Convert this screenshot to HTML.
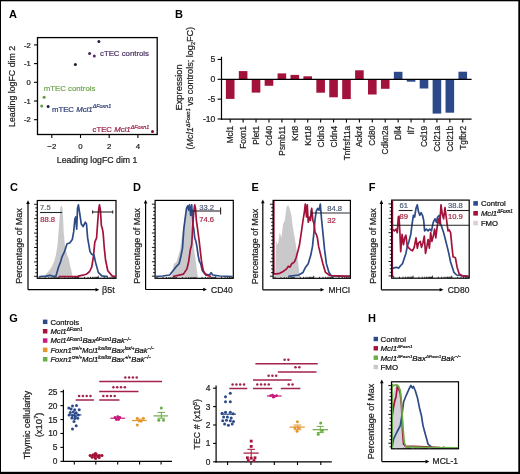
<!DOCTYPE html>
<html><head><meta charset="utf-8"><style>
html,body{margin:0;padding:0;background:#fff;}
svg{display:block;font-family:"Liberation Sans", sans-serif;filter:blur(0.3px);}
</style></head><body>
<svg width="520" height="474" viewBox="0 0 520 474" font-family='"Liberation Sans", sans-serif'>
<rect x="0" y="0" width="520" height="474" fill="#000" stroke="none" stroke-width="1"/>
<rect x="1" y="1.3" width="517.3" height="470.5" fill="#fff" stroke="none" stroke-width="1"/>
<text x="9" y="17.8" font-size="11" text-anchor="start" fill="#000" font-weight="bold" font-style="normal" >A</text>
<rect x="37.5" y="37.6" width="119.7" height="96.9" fill="none" stroke="#000" stroke-width="1.3"/>
<line x1="34" y1="44.9" x2="37.5" y2="44.9" stroke="#000" stroke-width="1.1"/>
<text x="30.8" y="47.6" font-size="7.6" text-anchor="end" fill="#222" font-weight="normal" font-style="normal"  stroke="#222" stroke-width="0.22">-2</text>
<line x1="34" y1="63.6" x2="37.5" y2="63.6" stroke="#000" stroke-width="1.1"/>
<text x="30.8" y="66.3" font-size="7.6" text-anchor="end" fill="#222" font-weight="normal" font-style="normal"  stroke="#222" stroke-width="0.22">-1</text>
<line x1="34" y1="82.3" x2="37.5" y2="82.3" stroke="#000" stroke-width="1.1"/>
<text x="30.8" y="85.0" font-size="7.6" text-anchor="end" fill="#222" font-weight="normal" font-style="normal"  stroke="#222" stroke-width="0.22">0</text>
<line x1="34" y1="101.0" x2="37.5" y2="101.0" stroke="#000" stroke-width="1.1"/>
<text x="30.8" y="103.7" font-size="7.6" text-anchor="end" fill="#222" font-weight="normal" font-style="normal"  stroke="#222" stroke-width="0.22">-1</text>
<line x1="34" y1="119.7" x2="37.5" y2="119.7" stroke="#000" stroke-width="1.1"/>
<text x="30.8" y="122.4" font-size="7.6" text-anchor="end" fill="#222" font-weight="normal" font-style="normal"  stroke="#222" stroke-width="0.22">-2</text>
<line x1="51.8" y1="134.5" x2="51.8" y2="138" stroke="#000" stroke-width="1.1"/>
<text x="51.8" y="148.6" font-size="7.8" text-anchor="middle" fill="#222" font-weight="normal" font-style="normal"  stroke="#222" stroke-width="0.22">−2</text>
<line x1="80.5" y1="134.5" x2="80.5" y2="138" stroke="#000" stroke-width="1.1"/>
<text x="80.5" y="148.6" font-size="7.8" text-anchor="middle" fill="#222" font-weight="normal" font-style="normal"  stroke="#222" stroke-width="0.22">0</text>
<line x1="109.2" y1="134.5" x2="109.2" y2="138" stroke="#000" stroke-width="1.1"/>
<text x="109.2" y="148.6" font-size="7.8" text-anchor="middle" fill="#222" font-weight="normal" font-style="normal"  stroke="#222" stroke-width="0.22">2</text>
<line x1="137.9" y1="134.5" x2="137.9" y2="138" stroke="#000" stroke-width="1.1"/>
<text x="137.9" y="148.6" font-size="7.8" text-anchor="middle" fill="#222" font-weight="normal" font-style="normal"  stroke="#222" stroke-width="0.22">4</text>
<text transform="translate(97.1,162.8) scale(1,1.08)" font-size="8.75" text-anchor="middle" fill="#222" stroke="#222" stroke-width="0.22">Leading logFC dim 1</text>
<text transform="translate(15,86.4) rotate(-90)" font-size="8.8" text-anchor="middle" fill="#222" stroke="#222" stroke-width="0.22">Leading logFC dim 2</text>
<circle cx="98.9" cy="41.4" r="1.5" fill="#2a2040"/>
<circle cx="89.6" cy="53.5" r="1.5" fill="#4a2060"/>
<circle cx="94.3" cy="55.9" r="1.5" fill="#5a2a6a"/>
<circle cx="75.4" cy="64.5" r="1.5" fill="#1e1a30"/>
<circle cx="44.1" cy="97.2" r="1.5" fill="#5f9a45"/>
<circle cx="41.7" cy="106.0" r="1.5" fill="#5f9a45"/>
<circle cx="48.1" cy="106.5" r="1.5" fill="#1d2440"/>
<circle cx="152.5" cy="131.5" r="1.5" fill="#7a1030"/>
<text x="100" y="56.0" font-size="7.8" text-anchor="start" fill="#4a3262" font-weight="normal" font-style="normal"  stroke="#4a3262" stroke-width="0.22">cTEC controls</text>
<text x="43.8" y="91.2" font-size="7.8" text-anchor="start" fill="#72a552" font-weight="normal" font-style="normal"  stroke="#72a552" stroke-width="0.22">mTEC controls</text>
<text x="51.9" y="111.5" font-size="7.8" fill="#34427a" stroke="#34427a" stroke-width="0.22">mTEC <tspan font-style="italic">Mcl1</tspan><tspan font-size="5.4" font-style="italic" dy="-3.4">ΔFoxn1</tspan></text>
<text x="92.5" y="132.4" font-size="7.8" fill="#9a1f48" stroke="#9a1f48" stroke-width="0.22">cTEC <tspan font-style="italic">Mcl1</tspan><tspan font-size="5.4" font-style="italic" dy="-3.4">ΔFoxn1</tspan></text>
<text x="175" y="17.5" font-size="11" text-anchor="start" fill="#000" font-weight="bold" font-style="normal" >B</text>
<line x1="221.5" y1="56.7" x2="221.5" y2="119.8" stroke="#000" stroke-width="1.2"/>
<line x1="217.6" y1="59.449999999999996" x2="221.5" y2="59.449999999999996" stroke="#000" stroke-width="1.1"/>
<text x="215.4" y="62.449999999999996" font-size="8.6" text-anchor="end" fill="#222" font-weight="normal" font-style="normal"  stroke="#222" stroke-width="0.22">5</text>
<line x1="217.6" y1="79.3" x2="221.5" y2="79.3" stroke="#000" stroke-width="1.1"/>
<text x="215.4" y="82.3" font-size="8.6" text-anchor="end" fill="#222" font-weight="normal" font-style="normal"  stroke="#222" stroke-width="0.22">0</text>
<line x1="217.6" y1="99.15" x2="221.5" y2="99.15" stroke="#000" stroke-width="1.1"/>
<text x="215.4" y="102.15" font-size="8.6" text-anchor="end" fill="#222" font-weight="normal" font-style="normal"  stroke="#222" stroke-width="0.22">-5</text>
<line x1="217.6" y1="119.0" x2="221.5" y2="119.0" stroke="#000" stroke-width="1.1"/>
<text x="215.4" y="122.0" font-size="8.6" text-anchor="end" fill="#222" font-weight="normal" font-style="normal"  stroke="#222" stroke-width="0.22">-10</text>
<rect x="225.89999999999998" y="79.3" width="8.6" height="19.6" fill="#a3123a" stroke="none" stroke-width="1"/>
<line x1="230.2" y1="119.2" x2="230.2" y2="122.6" stroke="#000" stroke-width="1.1"/>
<text transform="translate(233.2,125.8) rotate(-90)" font-size="8.3" text-anchor="end" fill="#222" stroke="#222" stroke-width="0.22">Mcl1</text>
<rect x="238.81999999999996" y="71.1" width="8.6" height="8.2" fill="#a3123a" stroke="none" stroke-width="1"/>
<line x1="243.11999999999998" y1="119.2" x2="243.11999999999998" y2="122.6" stroke="#000" stroke-width="1.1"/>
<text transform="translate(246.1,125.8) rotate(-90)" font-size="8.3" text-anchor="end" fill="#222" stroke="#222" stroke-width="0.22">Foxn1</text>
<rect x="251.73999999999995" y="79.3" width="8.6" height="13.3" fill="#a3123a" stroke="none" stroke-width="1"/>
<line x1="256.03999999999996" y1="119.2" x2="256.03999999999996" y2="122.6" stroke="#000" stroke-width="1.1"/>
<text transform="translate(259.0,125.8) rotate(-90)" font-size="8.3" text-anchor="end" fill="#222" stroke="#222" stroke-width="0.22">Plet1</text>
<rect x="264.65999999999997" y="79.3" width="8.6" height="6.5" fill="#a3123a" stroke="none" stroke-width="1"/>
<line x1="268.96" y1="119.2" x2="268.96" y2="122.6" stroke="#000" stroke-width="1.1"/>
<text transform="translate(272.0,125.8) rotate(-90)" font-size="8.3" text-anchor="end" fill="#222" stroke="#222" stroke-width="0.22">Cd40</text>
<rect x="277.58" y="73.39999999999999" width="8.6" height="5.9" fill="#a3123a" stroke="none" stroke-width="1"/>
<line x1="281.88" y1="119.2" x2="281.88" y2="122.6" stroke="#000" stroke-width="1.1"/>
<text transform="translate(284.9,125.8) rotate(-90)" font-size="8.3" text-anchor="end" fill="#222" stroke="#222" stroke-width="0.22">Psmb11</text>
<rect x="290.49999999999994" y="74.89999999999999" width="8.6" height="4.4" fill="#a3123a" stroke="none" stroke-width="1"/>
<line x1="294.79999999999995" y1="119.2" x2="294.79999999999995" y2="122.6" stroke="#000" stroke-width="1.1"/>
<text transform="translate(297.8,125.8) rotate(-90)" font-size="8.3" text-anchor="end" fill="#222" stroke="#222" stroke-width="0.22">Krt8</text>
<rect x="303.41999999999996" y="76.3" width="8.6" height="3.0" fill="#a3123a" stroke="none" stroke-width="1"/>
<line x1="307.71999999999997" y1="119.2" x2="307.71999999999997" y2="122.6" stroke="#000" stroke-width="1.1"/>
<text transform="translate(310.7,125.8) rotate(-90)" font-size="8.3" text-anchor="end" fill="#222" stroke="#222" stroke-width="0.22">Krt18</text>
<rect x="316.34" y="79.3" width="8.6" height="13.4" fill="#a3123a" stroke="none" stroke-width="1"/>
<line x1="320.64" y1="119.2" x2="320.64" y2="122.6" stroke="#000" stroke-width="1.1"/>
<text transform="translate(323.6,125.8) rotate(-90)" font-size="8.3" text-anchor="end" fill="#222" stroke="#222" stroke-width="0.22">Cldn3</text>
<rect x="329.26" y="79.3" width="8.6" height="18.0" fill="#a3123a" stroke="none" stroke-width="1"/>
<line x1="333.56" y1="119.2" x2="333.56" y2="122.6" stroke="#000" stroke-width="1.1"/>
<text transform="translate(336.6,125.8) rotate(-90)" font-size="8.3" text-anchor="end" fill="#222" stroke="#222" stroke-width="0.22">Cldn4</text>
<rect x="342.18" y="79.3" width="8.6" height="19.8" fill="#a3123a" stroke="none" stroke-width="1"/>
<line x1="346.48" y1="119.2" x2="346.48" y2="122.6" stroke="#000" stroke-width="1.1"/>
<text transform="translate(349.5,125.8) rotate(-90)" font-size="8.3" text-anchor="end" fill="#222" stroke="#222" stroke-width="0.22">Tnfrsf11a</text>
<rect x="355.09999999999997" y="70.3" width="8.6" height="9.0" fill="#a3123a" stroke="none" stroke-width="1"/>
<line x1="359.4" y1="119.2" x2="359.4" y2="122.6" stroke="#000" stroke-width="1.1"/>
<text transform="translate(362.4,125.8) rotate(-90)" font-size="8.3" text-anchor="end" fill="#222" stroke="#222" stroke-width="0.22">Ackr4</text>
<rect x="368.02" y="79.3" width="8.6" height="15.2" fill="#a3123a" stroke="none" stroke-width="1"/>
<line x1="372.32" y1="119.2" x2="372.32" y2="122.6" stroke="#000" stroke-width="1.1"/>
<text transform="translate(375.3,125.8) rotate(-90)" font-size="8.3" text-anchor="end" fill="#222" stroke="#222" stroke-width="0.22">Cd80</text>
<rect x="380.94" y="79.3" width="8.6" height="9.5" fill="#a3123a" stroke="none" stroke-width="1"/>
<line x1="385.24" y1="119.2" x2="385.24" y2="122.6" stroke="#000" stroke-width="1.1"/>
<text transform="translate(388.2,125.8) rotate(-90)" font-size="8.3" text-anchor="end" fill="#222" stroke="#222" stroke-width="0.22">Cdkn2a</text>
<rect x="393.85999999999996" y="71.8" width="8.6" height="7.5" fill="#2c4a8a" stroke="none" stroke-width="1"/>
<line x1="398.15999999999997" y1="119.2" x2="398.15999999999997" y2="122.6" stroke="#000" stroke-width="1.1"/>
<text transform="translate(401.2,125.8) rotate(-90)" font-size="8.3" text-anchor="end" fill="#222" stroke="#222" stroke-width="0.22">Dll4</text>
<rect x="406.78" y="79.3" width="8.6" height="2.4" fill="#2c4a8a" stroke="none" stroke-width="1"/>
<line x1="411.08" y1="119.2" x2="411.08" y2="122.6" stroke="#000" stroke-width="1.1"/>
<text transform="translate(414.1,125.8) rotate(-90)" font-size="8.3" text-anchor="end" fill="#222" stroke="#222" stroke-width="0.22">Il7</text>
<rect x="419.7" y="79.3" width="8.6" height="9.2" fill="#2c4a8a" stroke="none" stroke-width="1"/>
<line x1="424.0" y1="119.2" x2="424.0" y2="122.6" stroke="#000" stroke-width="1.1"/>
<text transform="translate(427.0,125.8) rotate(-90)" font-size="8.3" text-anchor="end" fill="#222" stroke="#222" stroke-width="0.22">Ccl19</text>
<rect x="432.61999999999995" y="79.3" width="8.6" height="34.3" fill="#2c4a8a" stroke="none" stroke-width="1"/>
<line x1="436.91999999999996" y1="119.2" x2="436.91999999999996" y2="122.6" stroke="#000" stroke-width="1.1"/>
<text transform="translate(439.9,125.8) rotate(-90)" font-size="8.3" text-anchor="end" fill="#222" stroke="#222" stroke-width="0.22">Ccl21a</text>
<rect x="445.53999999999996" y="79.3" width="8.6" height="33.4" fill="#2c4a8a" stroke="none" stroke-width="1"/>
<line x1="449.84" y1="119.2" x2="449.84" y2="122.6" stroke="#000" stroke-width="1.1"/>
<text transform="translate(452.8,125.8) rotate(-90)" font-size="8.3" text-anchor="end" fill="#222" stroke="#222" stroke-width="0.22">Ccl21b</text>
<rect x="458.46" y="71.7" width="8.6" height="7.6" fill="#2c4a8a" stroke="none" stroke-width="1"/>
<line x1="462.76" y1="119.2" x2="462.76" y2="122.6" stroke="#000" stroke-width="1.1"/>
<text transform="translate(465.8,125.8) rotate(-90)" font-size="8.3" text-anchor="end" fill="#222" stroke="#222" stroke-width="0.22">Tgfbr2</text>
<line x1="221.5" y1="79.3" x2="471.6" y2="79.3" stroke="#000" stroke-width="1.2"/>
<line x1="221.0" y1="119.2" x2="471.6" y2="119.2" stroke="#000" stroke-width="1.3"/>
<text transform="translate(181.9,87.4) rotate(-90)" font-size="9.4" text-anchor="middle" fill="#222" stroke="#222" stroke-width="0.22">Expression</text>
<text transform="translate(193.3,88.2) rotate(-90)" font-size="9.1" text-anchor="middle" fill="#222" stroke="#222" stroke-width="0.22">(<tspan font-style="italic">Mcl1</tspan><tspan font-size="5.5" font-style="italic" dy="-3.5">ΔFoxn1</tspan><tspan dy="3.5"> vs controls; log</tspan><tspan font-size="5.5" dy="2">2</tspan><tspan dy="-2">FC)</tspan></text>
<text x="9.9" y="191.4" font-size="11" text-anchor="start" fill="#000" font-weight="bold" font-style="normal" >C</text>
<text transform="translate(22.2,246) rotate(-90)" font-size="9.0" text-anchor="middle" fill="#222" stroke="#222" stroke-width="0.22">Percentage of Max</text>
<line x1="28.0" y1="289.7" x2="28.0" y2="203.8" stroke="#000" stroke-width="1.2"/>
<polygon points="26.2,204.1 29.8,204.1 28.0,200.3" fill="#000"/>
<line x1="28.0" y1="289.7" x2="95.8" y2="289.7" stroke="#000" stroke-width="1.2"/>
<polygon points="95.5,287.9 95.5,291.5 99.3,289.7" fill="#000"/>
<text transform="translate(102.0,292.6) scale(1,1.08)" font-size="9.0" text-anchor="start" fill="#222" stroke="#222" stroke-width="0.22">β5t</text>
<line x1="34.099999999999994" y1="204.3" x2="37.3" y2="204.3" stroke="#000" stroke-width="0.9"/>
<line x1="35.3" y1="207.9" x2="37.3" y2="207.9" stroke="#000" stroke-width="0.9"/>
<line x1="35.3" y1="211.5" x2="37.3" y2="211.5" stroke="#000" stroke-width="0.9"/>
<line x1="35.3" y1="215.1" x2="37.3" y2="215.1" stroke="#000" stroke-width="0.9"/>
<line x1="34.099999999999994" y1="218.7" x2="37.3" y2="218.7" stroke="#000" stroke-width="0.9"/>
<line x1="35.3" y1="222.29999999999998" x2="37.3" y2="222.29999999999998" stroke="#000" stroke-width="0.9"/>
<line x1="35.3" y1="225.89999999999998" x2="37.3" y2="225.89999999999998" stroke="#000" stroke-width="0.9"/>
<line x1="35.3" y1="229.49999999999997" x2="37.3" y2="229.49999999999997" stroke="#000" stroke-width="0.9"/>
<line x1="34.099999999999994" y1="233.09999999999997" x2="37.3" y2="233.09999999999997" stroke="#000" stroke-width="0.9"/>
<line x1="35.3" y1="236.69999999999996" x2="37.3" y2="236.69999999999996" stroke="#000" stroke-width="0.9"/>
<line x1="35.3" y1="240.29999999999995" x2="37.3" y2="240.29999999999995" stroke="#000" stroke-width="0.9"/>
<line x1="35.3" y1="243.89999999999995" x2="37.3" y2="243.89999999999995" stroke="#000" stroke-width="0.9"/>
<line x1="34.099999999999994" y1="247.49999999999994" x2="37.3" y2="247.49999999999994" stroke="#000" stroke-width="0.9"/>
<line x1="35.3" y1="251.09999999999994" x2="37.3" y2="251.09999999999994" stroke="#000" stroke-width="0.9"/>
<line x1="35.3" y1="254.69999999999993" x2="37.3" y2="254.69999999999993" stroke="#000" stroke-width="0.9"/>
<line x1="35.3" y1="258.29999999999995" x2="37.3" y2="258.29999999999995" stroke="#000" stroke-width="0.9"/>
<line x1="34.099999999999994" y1="261.9" x2="37.3" y2="261.9" stroke="#000" stroke-width="0.9"/>
<line x1="35.3" y1="265.5" x2="37.3" y2="265.5" stroke="#000" stroke-width="0.9"/>
<line x1="35.3" y1="269.1" x2="37.3" y2="269.1" stroke="#000" stroke-width="0.9"/>
<line x1="35.3" y1="272.70000000000005" x2="37.3" y2="272.70000000000005" stroke="#000" stroke-width="0.9"/>
<line x1="34.099999999999994" y1="276.30000000000007" x2="37.3" y2="276.30000000000007" stroke="#000" stroke-width="0.9"/>
<line x1="39.3" y1="278.3" x2="39.3" y2="275.8" stroke="#000" stroke-width="0.8"/>
<line x1="45.22276516468883" y1="278.3" x2="45.22276516468883" y2="276.8" stroke="#000" stroke-width="0.8"/>
<line x1="48.68736068660935" y1="278.3" x2="48.68736068660935" y2="276.8" stroke="#000" stroke-width="0.8"/>
<line x1="51.14553032937766" y1="278.3" x2="51.14553032937766" y2="276.8" stroke="#000" stroke-width="0.8"/>
<line x1="53.05223483531117" y1="278.3" x2="53.05223483531117" y2="276.8" stroke="#000" stroke-width="0.8"/>
<line x1="54.610125851298186" y1="278.3" x2="54.610125851298186" y2="276.8" stroke="#000" stroke-width="0.8"/>
<line x1="55.9273039372805" y1="278.3" x2="55.9273039372805" y2="276.8" stroke="#000" stroke-width="0.8"/>
<line x1="57.06829549406649" y1="278.3" x2="57.06829549406649" y2="276.8" stroke="#000" stroke-width="0.8"/>
<line x1="58.074721373218715" y1="278.3" x2="58.074721373218715" y2="276.8" stroke="#000" stroke-width="0.8"/>
<line x1="58.974999999999994" y1="278.3" x2="58.974999999999994" y2="275.8" stroke="#000" stroke-width="0.8"/>
<line x1="64.89776516468882" y1="278.3" x2="64.89776516468882" y2="276.8" stroke="#000" stroke-width="0.8"/>
<line x1="68.36236068660935" y1="278.3" x2="68.36236068660935" y2="276.8" stroke="#000" stroke-width="0.8"/>
<line x1="70.82053032937766" y1="278.3" x2="70.82053032937766" y2="276.8" stroke="#000" stroke-width="0.8"/>
<line x1="72.72723483531117" y1="278.3" x2="72.72723483531117" y2="276.8" stroke="#000" stroke-width="0.8"/>
<line x1="74.28512585129818" y1="278.3" x2="74.28512585129818" y2="276.8" stroke="#000" stroke-width="0.8"/>
<line x1="75.6023039372805" y1="278.3" x2="75.6023039372805" y2="276.8" stroke="#000" stroke-width="0.8"/>
<line x1="76.74329549406649" y1="278.3" x2="76.74329549406649" y2="276.8" stroke="#000" stroke-width="0.8"/>
<line x1="77.7497213732187" y1="278.3" x2="77.7497213732187" y2="276.8" stroke="#000" stroke-width="0.8"/>
<line x1="78.65" y1="278.3" x2="78.65" y2="275.8" stroke="#000" stroke-width="0.8"/>
<line x1="84.57276516468883" y1="278.3" x2="84.57276516468883" y2="276.8" stroke="#000" stroke-width="0.8"/>
<line x1="88.03736068660936" y1="278.3" x2="88.03736068660936" y2="276.8" stroke="#000" stroke-width="0.8"/>
<line x1="90.49553032937767" y1="278.3" x2="90.49553032937767" y2="276.8" stroke="#000" stroke-width="0.8"/>
<line x1="92.40223483531118" y1="278.3" x2="92.40223483531118" y2="276.8" stroke="#000" stroke-width="0.8"/>
<line x1="93.96012585129819" y1="278.3" x2="93.96012585129819" y2="276.8" stroke="#000" stroke-width="0.8"/>
<line x1="95.27730393728051" y1="278.3" x2="95.27730393728051" y2="276.8" stroke="#000" stroke-width="0.8"/>
<line x1="96.4182954940665" y1="278.3" x2="96.4182954940665" y2="276.8" stroke="#000" stroke-width="0.8"/>
<line x1="97.42472137321872" y1="278.3" x2="97.42472137321872" y2="276.8" stroke="#000" stroke-width="0.8"/>
<line x1="98.325" y1="278.3" x2="98.325" y2="275.8" stroke="#000" stroke-width="0.8"/>
<line x1="104.24776516468883" y1="278.3" x2="104.24776516468883" y2="276.8" stroke="#000" stroke-width="0.8"/>
<line x1="107.71236068660936" y1="278.3" x2="107.71236068660936" y2="276.8" stroke="#000" stroke-width="0.8"/>
<line x1="110.17053032937767" y1="278.3" x2="110.17053032937767" y2="276.8" stroke="#000" stroke-width="0.8"/>
<line x1="112.07723483531117" y1="278.3" x2="112.07723483531117" y2="276.8" stroke="#000" stroke-width="0.8"/>
<line x1="113.6351258512982" y1="278.3" x2="113.6351258512982" y2="276.8" stroke="#000" stroke-width="0.8"/>
<line x1="114.9523039372805" y1="278.3" x2="114.9523039372805" y2="276.8" stroke="#000" stroke-width="0.8"/>
<polygon points="44.7,277.3 44.7,275.5 48.0,272.0 51.0,268.0 54.0,262.0 55.9,255.1 57.5,245.0 58.5,232.6 59.6,218.0 60.3,208.0 61.4,204.9 62.4,208.0 63.1,218.0 63.7,232.6 65.0,246.0 67.1,255.1 68.5,258.0 70.0,265.0 71.5,271.0 72.3,275.5 72.3,277.3" fill="#c9c9cb"/>
<polyline points="58.5,276.6 77.5,276.3 82.7,275.2 86.2,274.3 89.6,271.5 91.7,267.2 93.4,256.8 94.8,242.1 96.6,237.8 97.8,220.5 98.8,208.4 99.5,204.9 100.4,210.1 101.4,225.7 102.3,228.3 103.1,232.6 104.3,248.2 105.6,260.3 107.8,270.7 112.1,275.9 115.3,276.6" fill="none" stroke="#a3123a" stroke-width="1.7" stroke-linejoin="round"/>
<polyline points="40.0,276.6 46.0,276.2 50.0,275.3 53.0,276.3 55.9,276.3 58.5,267.2 60.5,262.0 62.0,256.8 64.5,251.6 67.1,243.8 69.7,243.0 72.3,239.5 73.7,231.7 74.9,218.8 75.8,217.0 76.7,229.1 77.5,208.4 78.4,204.9 79.6,212.7 81.3,224.0 83.1,226.5 85.3,222.2 86.5,224.0 87.6,237.8 88.8,244.7 90.0,251.6 91.7,254.2 94.0,255.1 95.7,262.9 98.3,272.4 101.7,275.9 108.0,276.6" fill="none" stroke="#2d4b86" stroke-width="1.7" stroke-linejoin="round"/>
<rect x="37.3" y="200.5" width="78.7" height="77.80000000000001" fill="none" stroke="#000" stroke-width="1.2"/>
<line x1="40" y1="212.5" x2="62.1" y2="212.5" stroke="#1e2a2a" stroke-width="1.1"/>
<line x1="92.6" y1="212" x2="112.7" y2="212" stroke="#2a2226" stroke-width="1.1"/>
<line x1="92.6" y1="210.4" x2="92.6" y2="213.6" stroke="#2a2226" stroke-width="1.1"/>
<line x1="112.7" y1="210.4" x2="112.7" y2="213.6" stroke="#2a2226" stroke-width="1.1"/>
<text x="40.1" y="210.0" font-size="7.6" text-anchor="start" fill="#5e6c74" font-weight="normal" font-style="normal"  stroke="#5e6c74" stroke-width="0.22">7.5</text>
<text x="40.3" y="221.6" font-size="7.6" text-anchor="start" fill="#a82a4a" font-weight="normal" font-style="normal"  stroke="#a82a4a" stroke-width="0.22">88.8</text>
<text x="133" y="191.4" font-size="11" text-anchor="start" fill="#000" font-weight="bold" font-style="normal" >D</text>
<text transform="translate(140.2,246) rotate(-90)" font-size="9.0" text-anchor="middle" fill="#222" stroke="#222" stroke-width="0.22">Percentage of Max</text>
<line x1="145.6" y1="289.5" x2="145.6" y2="203.2" stroke="#000" stroke-width="1.2"/>
<polygon points="143.8,203.5 147.4,203.5 145.6,199.7" fill="#000"/>
<line x1="145.6" y1="289.5" x2="203.5" y2="289.5" stroke="#000" stroke-width="1.2"/>
<polygon points="203.2,287.7 203.2,291.3 207.0,289.5" fill="#000"/>
<text transform="translate(211.0,292.9) scale(1,1.12)" font-size="8.5" text-anchor="start" fill="#222" stroke="#222" stroke-width="0.22">CD40</text>
<line x1="151.9" y1="204.20000000000002" x2="155.1" y2="204.20000000000002" stroke="#000" stroke-width="0.9"/>
<line x1="153.1" y1="207.8" x2="155.1" y2="207.8" stroke="#000" stroke-width="0.9"/>
<line x1="153.1" y1="211.4" x2="155.1" y2="211.4" stroke="#000" stroke-width="0.9"/>
<line x1="153.1" y1="215.0" x2="155.1" y2="215.0" stroke="#000" stroke-width="0.9"/>
<line x1="151.9" y1="218.6" x2="155.1" y2="218.6" stroke="#000" stroke-width="0.9"/>
<line x1="153.1" y1="222.2" x2="155.1" y2="222.2" stroke="#000" stroke-width="0.9"/>
<line x1="153.1" y1="225.79999999999998" x2="155.1" y2="225.79999999999998" stroke="#000" stroke-width="0.9"/>
<line x1="153.1" y1="229.39999999999998" x2="155.1" y2="229.39999999999998" stroke="#000" stroke-width="0.9"/>
<line x1="151.9" y1="232.99999999999997" x2="155.1" y2="232.99999999999997" stroke="#000" stroke-width="0.9"/>
<line x1="153.1" y1="236.59999999999997" x2="155.1" y2="236.59999999999997" stroke="#000" stroke-width="0.9"/>
<line x1="153.1" y1="240.19999999999996" x2="155.1" y2="240.19999999999996" stroke="#000" stroke-width="0.9"/>
<line x1="153.1" y1="243.79999999999995" x2="155.1" y2="243.79999999999995" stroke="#000" stroke-width="0.9"/>
<line x1="151.9" y1="247.39999999999995" x2="155.1" y2="247.39999999999995" stroke="#000" stroke-width="0.9"/>
<line x1="153.1" y1="250.99999999999994" x2="155.1" y2="250.99999999999994" stroke="#000" stroke-width="0.9"/>
<line x1="153.1" y1="254.59999999999994" x2="155.1" y2="254.59999999999994" stroke="#000" stroke-width="0.9"/>
<line x1="153.1" y1="258.19999999999993" x2="155.1" y2="258.19999999999993" stroke="#000" stroke-width="0.9"/>
<line x1="151.9" y1="261.79999999999995" x2="155.1" y2="261.79999999999995" stroke="#000" stroke-width="0.9"/>
<line x1="153.1" y1="265.4" x2="155.1" y2="265.4" stroke="#000" stroke-width="0.9"/>
<line x1="153.1" y1="269.0" x2="155.1" y2="269.0" stroke="#000" stroke-width="0.9"/>
<line x1="153.1" y1="272.6" x2="155.1" y2="272.6" stroke="#000" stroke-width="0.9"/>
<line x1="151.9" y1="276.20000000000005" x2="155.1" y2="276.20000000000005" stroke="#000" stroke-width="0.9"/>
<line x1="157.1" y1="278.3" x2="157.1" y2="275.8" stroke="#000" stroke-width="0.8"/>
<line x1="162.98513641523084" y1="278.3" x2="162.98513641523084" y2="276.8" stroke="#000" stroke-width="0.8"/>
<line x1="166.4277205297694" y1="278.3" x2="166.4277205297694" y2="276.8" stroke="#000" stroke-width="0.8"/>
<line x1="168.87027283046166" y1="278.3" x2="168.87027283046166" y2="276.8" stroke="#000" stroke-width="0.8"/>
<line x1="170.76486358476916" y1="278.3" x2="170.76486358476916" y2="276.8" stroke="#000" stroke-width="0.8"/>
<line x1="172.31285694500022" y1="278.3" x2="172.31285694500022" y2="276.8" stroke="#000" stroke-width="0.8"/>
<line x1="173.62166668227871" y1="278.3" x2="173.62166668227871" y2="276.8" stroke="#000" stroke-width="0.8"/>
<line x1="174.7554092456925" y1="278.3" x2="174.7554092456925" y2="276.8" stroke="#000" stroke-width="0.8"/>
<line x1="175.7554410595388" y1="278.3" x2="175.7554410595388" y2="276.8" stroke="#000" stroke-width="0.8"/>
<line x1="176.65" y1="278.3" x2="176.65" y2="275.8" stroke="#000" stroke-width="0.8"/>
<line x1="182.53513641523085" y1="278.3" x2="182.53513641523085" y2="276.8" stroke="#000" stroke-width="0.8"/>
<line x1="185.9777205297694" y1="278.3" x2="185.9777205297694" y2="276.8" stroke="#000" stroke-width="0.8"/>
<line x1="188.42027283046167" y1="278.3" x2="188.42027283046167" y2="276.8" stroke="#000" stroke-width="0.8"/>
<line x1="190.31486358476917" y1="278.3" x2="190.31486358476917" y2="276.8" stroke="#000" stroke-width="0.8"/>
<line x1="191.86285694500023" y1="278.3" x2="191.86285694500023" y2="276.8" stroke="#000" stroke-width="0.8"/>
<line x1="193.17166668227873" y1="278.3" x2="193.17166668227873" y2="276.8" stroke="#000" stroke-width="0.8"/>
<line x1="194.30540924569252" y1="278.3" x2="194.30540924569252" y2="276.8" stroke="#000" stroke-width="0.8"/>
<line x1="195.30544105953882" y1="278.3" x2="195.30544105953882" y2="276.8" stroke="#000" stroke-width="0.8"/>
<line x1="196.2" y1="278.3" x2="196.2" y2="275.8" stroke="#000" stroke-width="0.8"/>
<line x1="202.08513641523083" y1="278.3" x2="202.08513641523083" y2="276.8" stroke="#000" stroke-width="0.8"/>
<line x1="205.5277205297694" y1="278.3" x2="205.5277205297694" y2="276.8" stroke="#000" stroke-width="0.8"/>
<line x1="207.97027283046165" y1="278.3" x2="207.97027283046165" y2="276.8" stroke="#000" stroke-width="0.8"/>
<line x1="209.86486358476915" y1="278.3" x2="209.86486358476915" y2="276.8" stroke="#000" stroke-width="0.8"/>
<line x1="211.41285694500021" y1="278.3" x2="211.41285694500021" y2="276.8" stroke="#000" stroke-width="0.8"/>
<line x1="212.7216666822787" y1="278.3" x2="212.7216666822787" y2="276.8" stroke="#000" stroke-width="0.8"/>
<line x1="213.8554092456925" y1="278.3" x2="213.8554092456925" y2="276.8" stroke="#000" stroke-width="0.8"/>
<line x1="214.8554410595388" y1="278.3" x2="214.8554410595388" y2="276.8" stroke="#000" stroke-width="0.8"/>
<line x1="215.75" y1="278.3" x2="215.75" y2="275.8" stroke="#000" stroke-width="0.8"/>
<line x1="221.63513641523085" y1="278.3" x2="221.63513641523085" y2="276.8" stroke="#000" stroke-width="0.8"/>
<line x1="225.0777205297694" y1="278.3" x2="225.0777205297694" y2="276.8" stroke="#000" stroke-width="0.8"/>
<line x1="227.52027283046166" y1="278.3" x2="227.52027283046166" y2="276.8" stroke="#000" stroke-width="0.8"/>
<line x1="229.41486358476917" y1="278.3" x2="229.41486358476917" y2="276.8" stroke="#000" stroke-width="0.8"/>
<line x1="230.96285694500023" y1="278.3" x2="230.96285694500023" y2="276.8" stroke="#000" stroke-width="0.8"/>
<line x1="232.27166668227872" y1="278.3" x2="232.27166668227872" y2="276.8" stroke="#000" stroke-width="0.8"/>
<polygon points="171.3,277.3 171.3,276.0 173.9,263.7 176.5,262.0 180.0,249.9 182.5,232.6 185.1,217.0 187.7,208.4 189.5,205.8 191.2,215.3 192.4,232.6 194.1,249.9 195.5,258.6 197.3,274.1 198.0,276.0 198.0,277.3" fill="#c9c9cb"/>
<polyline points="156.0,276.5 162.7,276.0 169.6,275.0 173.0,270.7 176.5,266.3 179.1,263.7 180.8,256.8 182.5,248.2 183.8,229.1 185.1,218.8 186.5,208.4 187.7,205.8 188.6,210.1 189.5,204.9 190.7,215.3 191.7,204.9 192.9,224.0 193.8,229.1 194.7,237.8 195.9,241.3 196.9,246.4 198.1,255.1 199.3,261.1 200.7,263.7 202.4,270.7 205.0,274.1 209.4,275.0 211.1,272.7 212.8,275.0 219.7,276.0 232.5,276.5" fill="none" stroke="#2d4b86" stroke-width="1.7" stroke-linejoin="round"/>
<polyline points="173.0,276.5 183.4,274.1 186.9,268.9 188.6,262.0 190.3,249.9 191.7,244.7 192.9,224.0 193.8,211.8 194.7,204.9 195.5,208.4 196.4,220.5 197.6,229.1 199.0,239.5 200.4,251.6 201.6,262.0 203.3,270.7 205.9,275.0 211.1,276.5" fill="none" stroke="#a3123a" stroke-width="1.7" stroke-linejoin="round"/>
<rect x="155.1" y="200.4" width="78.20000000000002" height="77.9" fill="none" stroke="#000" stroke-width="1.2"/>
<line x1="191.2" y1="211" x2="220.6" y2="211" stroke="#2a2226" stroke-width="1.1"/>
<line x1="220.6" y1="207.5" x2="220.6" y2="214.5" stroke="#2a2226" stroke-width="1.1"/>
<text x="199.3" y="210.0" font-size="7.6" text-anchor="start" fill="#4f5d78" font-weight="normal" font-style="normal"  stroke="#4f5d78" stroke-width="0.22">33.2</text>
<text x="199.3" y="222.4" font-size="7.6" text-anchor="start" fill="#a82a4a" font-weight="normal" font-style="normal"  stroke="#a82a4a" stroke-width="0.22">74.6</text>
<text x="251.4" y="191.4" font-size="11" text-anchor="start" fill="#000" font-weight="bold" font-style="normal" >E</text>
<text transform="translate(257.8,246.5) rotate(-90)" font-size="9.0" text-anchor="middle" fill="#222" stroke="#222" stroke-width="0.22">Percentage of Max</text>
<line x1="262.8" y1="289.8" x2="262.8" y2="203.0" stroke="#000" stroke-width="1.2"/>
<polygon points="261.0,203.3 264.6,203.3 262.8,199.5" fill="#000"/>
<line x1="262.8" y1="289.8" x2="320.8" y2="289.8" stroke="#000" stroke-width="1.2"/>
<polygon points="320.5,288.0 320.5,291.6 324.3,289.8" fill="#000"/>
<text transform="translate(328.5,293.0) scale(1,1.12)" font-size="8.5" text-anchor="start" fill="#222" stroke="#222" stroke-width="0.22">MHCI</text>
<line x1="269.90000000000003" y1="204.20000000000002" x2="273.1" y2="204.20000000000002" stroke="#000" stroke-width="0.9"/>
<line x1="271.1" y1="207.8" x2="273.1" y2="207.8" stroke="#000" stroke-width="0.9"/>
<line x1="271.1" y1="211.4" x2="273.1" y2="211.4" stroke="#000" stroke-width="0.9"/>
<line x1="271.1" y1="215.0" x2="273.1" y2="215.0" stroke="#000" stroke-width="0.9"/>
<line x1="269.90000000000003" y1="218.6" x2="273.1" y2="218.6" stroke="#000" stroke-width="0.9"/>
<line x1="271.1" y1="222.2" x2="273.1" y2="222.2" stroke="#000" stroke-width="0.9"/>
<line x1="271.1" y1="225.79999999999998" x2="273.1" y2="225.79999999999998" stroke="#000" stroke-width="0.9"/>
<line x1="271.1" y1="229.39999999999998" x2="273.1" y2="229.39999999999998" stroke="#000" stroke-width="0.9"/>
<line x1="269.90000000000003" y1="232.99999999999997" x2="273.1" y2="232.99999999999997" stroke="#000" stroke-width="0.9"/>
<line x1="271.1" y1="236.59999999999997" x2="273.1" y2="236.59999999999997" stroke="#000" stroke-width="0.9"/>
<line x1="271.1" y1="240.19999999999996" x2="273.1" y2="240.19999999999996" stroke="#000" stroke-width="0.9"/>
<line x1="271.1" y1="243.79999999999995" x2="273.1" y2="243.79999999999995" stroke="#000" stroke-width="0.9"/>
<line x1="269.90000000000003" y1="247.39999999999995" x2="273.1" y2="247.39999999999995" stroke="#000" stroke-width="0.9"/>
<line x1="271.1" y1="250.99999999999994" x2="273.1" y2="250.99999999999994" stroke="#000" stroke-width="0.9"/>
<line x1="271.1" y1="254.59999999999994" x2="273.1" y2="254.59999999999994" stroke="#000" stroke-width="0.9"/>
<line x1="271.1" y1="258.19999999999993" x2="273.1" y2="258.19999999999993" stroke="#000" stroke-width="0.9"/>
<line x1="269.90000000000003" y1="261.79999999999995" x2="273.1" y2="261.79999999999995" stroke="#000" stroke-width="0.9"/>
<line x1="271.1" y1="265.4" x2="273.1" y2="265.4" stroke="#000" stroke-width="0.9"/>
<line x1="271.1" y1="269.0" x2="273.1" y2="269.0" stroke="#000" stroke-width="0.9"/>
<line x1="271.1" y1="272.6" x2="273.1" y2="272.6" stroke="#000" stroke-width="0.9"/>
<line x1="269.90000000000003" y1="276.20000000000005" x2="273.1" y2="276.20000000000005" stroke="#000" stroke-width="0.9"/>
<line x1="275.1" y1="278.3" x2="275.1" y2="275.8" stroke="#000" stroke-width="0.8"/>
<line x1="280.91740466620644" y1="278.3" x2="280.91740466620644" y2="276.8" stroke="#000" stroke-width="0.8"/>
<line x1="284.3203682474575" y1="278.3" x2="284.3203682474575" y2="276.8" stroke="#000" stroke-width="0.8"/>
<line x1="286.7348093324129" y1="278.3" x2="286.7348093324129" y2="276.8" stroke="#000" stroke-width="0.8"/>
<line x1="288.6075953337936" y1="278.3" x2="288.6075953337936" y2="276.8" stroke="#000" stroke-width="0.8"/>
<line x1="290.1377729136639" y1="278.3" x2="290.1377729136639" y2="276.8" stroke="#000" stroke-width="0.8"/>
<line x1="291.4315196232755" y1="278.3" x2="291.4315196232755" y2="276.8" stroke="#000" stroke-width="0.8"/>
<line x1="292.5522139986193" y1="278.3" x2="292.5522139986193" y2="276.8" stroke="#000" stroke-width="0.8"/>
<line x1="293.540736494915" y1="278.3" x2="293.540736494915" y2="276.8" stroke="#000" stroke-width="0.8"/>
<line x1="294.425" y1="278.3" x2="294.425" y2="275.8" stroke="#000" stroke-width="0.8"/>
<line x1="300.2424046662064" y1="278.3" x2="300.2424046662064" y2="276.8" stroke="#000" stroke-width="0.8"/>
<line x1="303.6453682474575" y1="278.3" x2="303.6453682474575" y2="276.8" stroke="#000" stroke-width="0.8"/>
<line x1="306.0598093324129" y1="278.3" x2="306.0598093324129" y2="276.8" stroke="#000" stroke-width="0.8"/>
<line x1="307.9325953337936" y1="278.3" x2="307.9325953337936" y2="276.8" stroke="#000" stroke-width="0.8"/>
<line x1="309.4627729136639" y1="278.3" x2="309.4627729136639" y2="276.8" stroke="#000" stroke-width="0.8"/>
<line x1="310.7565196232755" y1="278.3" x2="310.7565196232755" y2="276.8" stroke="#000" stroke-width="0.8"/>
<line x1="311.8772139986193" y1="278.3" x2="311.8772139986193" y2="276.8" stroke="#000" stroke-width="0.8"/>
<line x1="312.8657364949149" y1="278.3" x2="312.8657364949149" y2="276.8" stroke="#000" stroke-width="0.8"/>
<line x1="313.75" y1="278.3" x2="313.75" y2="275.8" stroke="#000" stroke-width="0.8"/>
<line x1="319.5674046662064" y1="278.3" x2="319.5674046662064" y2="276.8" stroke="#000" stroke-width="0.8"/>
<line x1="322.9703682474575" y1="278.3" x2="322.9703682474575" y2="276.8" stroke="#000" stroke-width="0.8"/>
<line x1="325.3848093324129" y1="278.3" x2="325.3848093324129" y2="276.8" stroke="#000" stroke-width="0.8"/>
<line x1="327.2575953337936" y1="278.3" x2="327.2575953337936" y2="276.8" stroke="#000" stroke-width="0.8"/>
<line x1="328.7877729136639" y1="278.3" x2="328.7877729136639" y2="276.8" stroke="#000" stroke-width="0.8"/>
<line x1="330.0815196232755" y1="278.3" x2="330.0815196232755" y2="276.8" stroke="#000" stroke-width="0.8"/>
<line x1="331.2022139986193" y1="278.3" x2="331.2022139986193" y2="276.8" stroke="#000" stroke-width="0.8"/>
<line x1="332.190736494915" y1="278.3" x2="332.190736494915" y2="276.8" stroke="#000" stroke-width="0.8"/>
<line x1="333.075" y1="278.3" x2="333.075" y2="275.8" stroke="#000" stroke-width="0.8"/>
<line x1="338.8924046662064" y1="278.3" x2="338.8924046662064" y2="276.8" stroke="#000" stroke-width="0.8"/>
<line x1="342.2953682474575" y1="278.3" x2="342.2953682474575" y2="276.8" stroke="#000" stroke-width="0.8"/>
<line x1="344.7098093324129" y1="278.3" x2="344.7098093324129" y2="276.8" stroke="#000" stroke-width="0.8"/>
<line x1="346.58259533379356" y1="278.3" x2="346.58259533379356" y2="276.8" stroke="#000" stroke-width="0.8"/>
<line x1="348.1127729136639" y1="278.3" x2="348.1127729136639" y2="276.8" stroke="#000" stroke-width="0.8"/>
<polygon points="275.3,277.3 275.3,270.7 276.2,241.3 277.9,244.7 279.7,232.6 281.4,237.8 283.1,224.0 284.8,220.5 286.6,206.7 288.3,204.9 290.0,210.1 291.4,215.3 292.6,225.7 294.4,236.1 296.1,246.4 297.3,255.1 298.7,267.2 299.5,274.1 300.0,276.0 300.0,277.3" fill="#c9c9cb"/>
<polyline points="288.3,276.3 298.7,275.0 303.0,272.4 305.6,267.2 308.2,263.7 310.8,255.1 312.5,246.4 313.9,232.6 315.1,218.8 316.3,211.0 317.7,208.4 319.1,210.1 320.3,204.1 321.5,218.8 322.9,232.6 324.6,249.9 326.4,263.7 329.0,272.4 331.6,276.0 350.3,276.3" fill="none" stroke="#2d4b86" stroke-width="1.7" stroke-linejoin="round"/>
<polyline points="273.8,200.8 273.8,274.1 279.7,273.3 283.1,271.5 286.6,268.9 288.3,266.3 290.0,267.2 291.8,263.7 294.4,262.0 296.1,257.7 297.8,251.6 299.5,244.7 301.3,232.6 303.0,220.5 304.4,211.8 305.3,204.1 306.5,217.0 307.3,204.9 308.2,222.2 309.4,217.0 310.4,220.5 311.7,208.4 312.9,220.5 313.9,223.1 315.1,232.6 316.3,234.3 317.4,237.8 318.6,246.4 320.3,253.4 322.9,263.7 325.5,272.4 329.8,275.5 350.3,276.3" fill="none" stroke="#a3123a" stroke-width="1.7" stroke-linejoin="round"/>
<rect x="273.1" y="200.4" width="77.29999999999995" height="77.9" fill="none" stroke="#000" stroke-width="1.2"/>
<line x1="311.1" y1="213.0" x2="350.4" y2="213.0" stroke="#2a2a35" stroke-width="1.1"/>
<line x1="311.1" y1="210.0" x2="311.1" y2="216.0" stroke="#2a2a35" stroke-width="1.1"/>
<text x="327.2" y="210.7" font-size="7.6" text-anchor="start" fill="#4f5d78" font-weight="normal" font-style="normal"  stroke="#4f5d78" stroke-width="0.22">84.8</text>
<text x="327.2" y="223.2" font-size="7.6" text-anchor="start" fill="#a82a4a" font-weight="normal" font-style="normal"  stroke="#a82a4a" stroke-width="0.22">32</text>
<text x="368.7" y="191.4" font-size="11" text-anchor="start" fill="#000" font-weight="bold" font-style="normal" >F</text>
<text transform="translate(375.8,246) rotate(-90)" font-size="9.0" text-anchor="middle" fill="#222" stroke="#222" stroke-width="0.22">Percentage of Max</text>
<line x1="381.4" y1="289.8" x2="381.4" y2="203.6" stroke="#000" stroke-width="1.2"/>
<polygon points="379.6,203.9 383.2,203.9 381.4,200.1" fill="#000"/>
<line x1="381.4" y1="289.8" x2="440.0" y2="289.8" stroke="#000" stroke-width="1.2"/>
<polygon points="439.7,288.0 439.7,291.6 443.5,289.8" fill="#000"/>
<text transform="translate(447.7,293.1) scale(1,1.12)" font-size="8.5" text-anchor="start" fill="#222" stroke="#222" stroke-width="0.22">CD80</text>
<line x1="388.5" y1="203.9" x2="391.7" y2="203.9" stroke="#000" stroke-width="0.9"/>
<line x1="389.7" y1="207.5" x2="391.7" y2="207.5" stroke="#000" stroke-width="0.9"/>
<line x1="389.7" y1="211.1" x2="391.7" y2="211.1" stroke="#000" stroke-width="0.9"/>
<line x1="389.7" y1="214.7" x2="391.7" y2="214.7" stroke="#000" stroke-width="0.9"/>
<line x1="388.5" y1="218.29999999999998" x2="391.7" y2="218.29999999999998" stroke="#000" stroke-width="0.9"/>
<line x1="389.7" y1="221.89999999999998" x2="391.7" y2="221.89999999999998" stroke="#000" stroke-width="0.9"/>
<line x1="389.7" y1="225.49999999999997" x2="391.7" y2="225.49999999999997" stroke="#000" stroke-width="0.9"/>
<line x1="389.7" y1="229.09999999999997" x2="391.7" y2="229.09999999999997" stroke="#000" stroke-width="0.9"/>
<line x1="388.5" y1="232.69999999999996" x2="391.7" y2="232.69999999999996" stroke="#000" stroke-width="0.9"/>
<line x1="389.7" y1="236.29999999999995" x2="391.7" y2="236.29999999999995" stroke="#000" stroke-width="0.9"/>
<line x1="389.7" y1="239.89999999999995" x2="391.7" y2="239.89999999999995" stroke="#000" stroke-width="0.9"/>
<line x1="389.7" y1="243.49999999999994" x2="391.7" y2="243.49999999999994" stroke="#000" stroke-width="0.9"/>
<line x1="388.5" y1="247.09999999999994" x2="391.7" y2="247.09999999999994" stroke="#000" stroke-width="0.9"/>
<line x1="389.7" y1="250.69999999999993" x2="391.7" y2="250.69999999999993" stroke="#000" stroke-width="0.9"/>
<line x1="389.7" y1="254.29999999999993" x2="391.7" y2="254.29999999999993" stroke="#000" stroke-width="0.9"/>
<line x1="389.7" y1="257.8999999999999" x2="391.7" y2="257.8999999999999" stroke="#000" stroke-width="0.9"/>
<line x1="388.5" y1="261.49999999999994" x2="391.7" y2="261.49999999999994" stroke="#000" stroke-width="0.9"/>
<line x1="389.7" y1="265.09999999999997" x2="391.7" y2="265.09999999999997" stroke="#000" stroke-width="0.9"/>
<line x1="389.7" y1="268.7" x2="391.7" y2="268.7" stroke="#000" stroke-width="0.9"/>
<line x1="389.7" y1="272.3" x2="391.7" y2="272.3" stroke="#000" stroke-width="0.9"/>
<line x1="388.5" y1="275.90000000000003" x2="391.7" y2="275.90000000000003" stroke="#000" stroke-width="0.9"/>
<line x1="393.7" y1="278.2" x2="393.7" y2="275.7" stroke="#000" stroke-width="0.8"/>
<line x1="399.53245616598963" y1="278.2" x2="399.53245616598963" y2="276.7" stroke="#000" stroke-width="0.8"/>
<line x1="402.9442243101935" y1="278.2" x2="402.9442243101935" y2="276.7" stroke="#000" stroke-width="0.8"/>
<line x1="405.36491233197927" y1="278.2" x2="405.36491233197927" y2="276.7" stroke="#000" stroke-width="0.8"/>
<line x1="407.24254383401035" y1="278.2" x2="407.24254383401035" y2="276.7" stroke="#000" stroke-width="0.8"/>
<line x1="408.77668047618306" y1="278.2" x2="408.77668047618306" y2="276.7" stroke="#000" stroke-width="0.8"/>
<line x1="410.07377452527624" y1="278.2" x2="410.07377452527624" y2="276.7" stroke="#000" stroke-width="0.8"/>
<line x1="411.1973684979689" y1="278.2" x2="411.1973684979689" y2="276.7" stroke="#000" stroke-width="0.8"/>
<line x1="412.1884486203869" y1="278.2" x2="412.1884486203869" y2="276.7" stroke="#000" stroke-width="0.8"/>
<line x1="413.075" y1="278.2" x2="413.075" y2="275.7" stroke="#000" stroke-width="0.8"/>
<line x1="418.90745616598963" y1="278.2" x2="418.90745616598963" y2="276.7" stroke="#000" stroke-width="0.8"/>
<line x1="422.3192243101935" y1="278.2" x2="422.3192243101935" y2="276.7" stroke="#000" stroke-width="0.8"/>
<line x1="424.73991233197927" y1="278.2" x2="424.73991233197927" y2="276.7" stroke="#000" stroke-width="0.8"/>
<line x1="426.61754383401035" y1="278.2" x2="426.61754383401035" y2="276.7" stroke="#000" stroke-width="0.8"/>
<line x1="428.15168047618306" y1="278.2" x2="428.15168047618306" y2="276.7" stroke="#000" stroke-width="0.8"/>
<line x1="429.44877452527624" y1="278.2" x2="429.44877452527624" y2="276.7" stroke="#000" stroke-width="0.8"/>
<line x1="430.5723684979689" y1="278.2" x2="430.5723684979689" y2="276.7" stroke="#000" stroke-width="0.8"/>
<line x1="431.5634486203869" y1="278.2" x2="431.5634486203869" y2="276.7" stroke="#000" stroke-width="0.8"/>
<line x1="432.45" y1="278.2" x2="432.45" y2="275.7" stroke="#000" stroke-width="0.8"/>
<line x1="438.28245616598963" y1="278.2" x2="438.28245616598963" y2="276.7" stroke="#000" stroke-width="0.8"/>
<line x1="441.6942243101935" y1="278.2" x2="441.6942243101935" y2="276.7" stroke="#000" stroke-width="0.8"/>
<line x1="444.11491233197927" y1="278.2" x2="444.11491233197927" y2="276.7" stroke="#000" stroke-width="0.8"/>
<line x1="445.99254383401035" y1="278.2" x2="445.99254383401035" y2="276.7" stroke="#000" stroke-width="0.8"/>
<line x1="447.52668047618306" y1="278.2" x2="447.52668047618306" y2="276.7" stroke="#000" stroke-width="0.8"/>
<line x1="448.82377452527624" y1="278.2" x2="448.82377452527624" y2="276.7" stroke="#000" stroke-width="0.8"/>
<line x1="449.9473684979689" y1="278.2" x2="449.9473684979689" y2="276.7" stroke="#000" stroke-width="0.8"/>
<line x1="450.9384486203869" y1="278.2" x2="450.9384486203869" y2="276.7" stroke="#000" stroke-width="0.8"/>
<line x1="451.825" y1="278.2" x2="451.825" y2="275.7" stroke="#000" stroke-width="0.8"/>
<line x1="457.65745616598963" y1="278.2" x2="457.65745616598963" y2="276.7" stroke="#000" stroke-width="0.8"/>
<line x1="461.0692243101935" y1="278.2" x2="461.0692243101935" y2="276.7" stroke="#000" stroke-width="0.8"/>
<line x1="463.48991233197927" y1="278.2" x2="463.48991233197927" y2="276.7" stroke="#000" stroke-width="0.8"/>
<line x1="465.36754383401035" y1="278.2" x2="465.36754383401035" y2="276.7" stroke="#000" stroke-width="0.8"/>
<line x1="466.90168047618306" y1="278.2" x2="466.90168047618306" y2="276.7" stroke="#000" stroke-width="0.8"/>
<line x1="468.19877452527624" y1="278.2" x2="468.19877452527624" y2="276.7" stroke="#000" stroke-width="0.8"/>
<polyline points="392.3,268.9 393.5,268.1 396.1,267.2 398.7,268.1 400.7,265.5 402.5,263.7 404.2,258.6 405.9,253.4 407.3,246.4 409.0,241.3 410.8,234.3 412.1,224.0 413.4,215.3 414.6,217.0 416.0,208.4 417.3,204.9 418.5,211.8 419.8,215.3 421.1,212.7 422.5,215.3 423.7,220.5 424.6,230.9 426.3,229.1 428.1,230.9 429.8,229.1 431.5,230.9 433.3,222.2 435.0,218.8 436.4,222.2 437.6,217.0 439.3,215.3 440.7,224.0 441.9,227.4 443.6,232.6 445.4,239.5 447.1,246.4 448.8,253.4 450.6,262.0 452.3,267.2 454.0,272.4 456.6,275.0 468.5,276.3" fill="none" stroke="#2d4b86" stroke-width="1.7" stroke-linejoin="round"/>
<polyline points="392.3,201.0 392.3,229.1 394.3,230.9 396.1,229.1 397.3,232.6 398.3,217.0 399.0,216.2 399.9,232.6 400.7,251.6 402.1,234.3 403.5,244.7 404.7,237.8 405.9,235.2 407.3,246.4 409.0,248.2 410.8,249.9 412.5,250.8 414.2,247.3 416.0,237.8 417.3,248.2 418.5,243.0 420.3,241.3 421.5,247.3 422.9,243.0 424.3,236.1 425.5,253.4 426.9,246.4 428.1,239.5 429.4,248.2 430.7,232.6 431.9,241.3 433.3,236.1 434.6,229.1 435.8,237.8 437.1,227.4 438.4,218.8 439.8,224.0 441.0,204.9 442.2,213.6 443.6,218.8 445.0,207.5 446.2,217.0 448.0,230.9 449.2,230.0 450.6,232.6 451.9,246.4 453.1,256.8 455.4,257.7 457.1,267.2 459.2,274.1 462.7,275.9 468.5,276.3" fill="none" stroke="#a3123a" stroke-width="1.7" stroke-linejoin="round"/>
<line x1="392.3" y1="201" x2="392.3" y2="277" stroke="#a3123a" stroke-width="1.6"/>
<rect x="391.7" y="200.1" width="77.5" height="78.1" fill="none" stroke="#000" stroke-width="1.2"/>
<line x1="391.7" y1="225.3" x2="469.2" y2="225.3" stroke="#222" stroke-width="1.1"/>
<line x1="398.7" y1="210.5" x2="412.5" y2="210.5" stroke="#222" stroke-width="1.1"/>
<line x1="447.1" y1="210.5" x2="469.2" y2="210.5" stroke="#222" stroke-width="1.1"/>
<text x="399.5" y="207.6" font-size="7.6" text-anchor="start" fill="#4f5d78" font-weight="normal" font-style="normal"  stroke="#4f5d78" stroke-width="0.22">61</text>
<text x="399.5" y="219.4" font-size="7.6" text-anchor="start" fill="#a82a4a" font-weight="normal" font-style="normal"  stroke="#a82a4a" stroke-width="0.22">89</text>
<text x="448.0" y="207.6" font-size="7.6" text-anchor="start" fill="#4f5d78" font-weight="normal" font-style="normal"  stroke="#4f5d78" stroke-width="0.22">38.8</text>
<text x="448.0" y="219.4" font-size="7.6" text-anchor="start" fill="#a82a4a" font-weight="normal" font-style="normal"  stroke="#a82a4a" stroke-width="0.22">10.9</text>
<rect x="473.3" y="201.1" width="4.6" height="4.6" fill="#2c4a8a" stroke="none" stroke-width="1"/>
<rect x="473.3" y="211.0" width="4.6" height="4.6" fill="#a3123a" stroke="none" stroke-width="1"/>
<rect x="473.3" y="220.8" width="4.6" height="4.6" fill="#dccfd4" stroke="none" stroke-width="1"/>
<text x="480.9" y="206.0" font-size="7.7" text-anchor="start" fill="#111" font-weight="normal" font-style="normal"  stroke="#111" stroke-width="0.22">Control</text>
<text x="480.9" y="215.9" font-size="7.7" fill="#111" font-style="italic" stroke="#111" stroke-width="0.22">Mcl1<tspan font-size="4.5" dy="-2.8">ΔFoxn1</tspan></text>
<text x="480.9" y="225.7" font-size="7.7" text-anchor="start" fill="#111" font-weight="normal" font-style="normal"  stroke="#111" stroke-width="0.22">FMO</text>
<text x="9.2" y="321.9" font-size="11" text-anchor="start" fill="#000" font-weight="bold" font-style="normal" >G</text>
<rect x="42.9" y="319.59999999999997" width="4.5" height="4.5" fill="#2c4a8a" stroke="none" stroke-width="1"/>
<text x="50.4" y="324.7" font-size="7.7" fill="#111" stroke="#111" stroke-width="0.22">Controls</text>
<rect x="42.9" y="329.0" width="4.5" height="4.5" fill="#a3123a" stroke="none" stroke-width="1"/>
<text x="50.4" y="334.1" font-size="7.7" fill="#111" stroke="#111" stroke-width="0.22"><tspan font-style="italic">Mcl1</tspan><tspan font-size="4.6" font-style="italic" dy="-2.9">ΔFoxn1</tspan></text>
<rect x="42.9" y="338.3" width="4.5" height="4.5" fill="#c8197f" stroke="none" stroke-width="1"/>
<text x="50.4" y="343.4" font-size="7.7" fill="#111" stroke="#111" stroke-width="0.22"><tspan font-style="italic">Mcl1</tspan><tspan font-size="4.6" font-style="italic" dy="-2.9">ΔFoxn1</tspan><tspan font-style="italic" dy="2.9">Bax</tspan><tspan font-size="4.6" font-style="italic" dy="-2.9">ΔFoxn1</tspan><tspan font-style="italic" dy="2.9">Bak</tspan><tspan font-size="4.6" font-style="italic" dy="-2.9">−/−</tspan></text>
<rect x="42.9" y="347.59999999999997" width="4.5" height="4.5" fill="#e5962c" stroke="none" stroke-width="1"/>
<text x="50.4" y="352.7" font-size="7.7" fill="#111" stroke="#111" stroke-width="0.22"><tspan font-style="italic">Foxn1</tspan><tspan font-size="4.6" font-style="italic" dy="-2.9">cre/+</tspan><tspan font-style="italic" dy="2.9">Mcl1</tspan><tspan font-size="4.6" font-style="italic" dy="-2.9">lox/lox</tspan><tspan font-style="italic" dy="2.9">Bax</tspan><tspan font-size="4.6" font-style="italic" dy="-2.9">lox/+</tspan><tspan font-style="italic" dy="2.9">Bak</tspan><tspan font-size="4.6" font-style="italic" dy="-2.9">−/−</tspan></text>
<rect x="42.9" y="357.0" width="4.5" height="4.5" fill="#6aac46" stroke="none" stroke-width="1"/>
<text x="50.4" y="362.1" font-size="7.7" fill="#111" stroke="#111" stroke-width="0.22"><tspan font-style="italic">Foxn1</tspan><tspan font-size="4.6" font-style="italic" dy="-2.9">cre/+</tspan><tspan font-style="italic" dy="2.9">Mcl1</tspan><tspan font-size="4.6" font-style="italic" dy="-2.9">lox/lox</tspan><tspan font-style="italic" dy="2.9">Bax</tspan><tspan font-size="4.6" font-style="italic" dy="-2.9">+/+</tspan><tspan font-style="italic" dy="2.9">Bak</tspan><tspan font-size="4.6" font-style="italic" dy="-2.9">−/−</tspan></text>
<line x1="63.4" y1="389.8" x2="63.4" y2="461.90000000000003" stroke="#000" stroke-width="1.2"/>
<line x1="62.8" y1="461.3" x2="172" y2="461.3" stroke="#000" stroke-width="1.2"/>
<line x1="60.4" y1="461.3" x2="63.4" y2="461.3" stroke="#000" stroke-width="1.1"/>
<text x="57.5" y="464.3" font-size="8.4" text-anchor="end" fill="#222" font-weight="normal" font-style="normal"  stroke="#222" stroke-width="0.22">0</text>
<line x1="60.4" y1="447.38" x2="63.4" y2="447.38" stroke="#000" stroke-width="1.1"/>
<text x="57.5" y="450.38" font-size="8.4" text-anchor="end" fill="#222" font-weight="normal" font-style="normal"  stroke="#222" stroke-width="0.22">5</text>
<line x1="60.4" y1="433.46000000000004" x2="63.4" y2="433.46000000000004" stroke="#000" stroke-width="1.1"/>
<text x="57.5" y="436.46000000000004" font-size="8.4" text-anchor="end" fill="#222" font-weight="normal" font-style="normal"  stroke="#222" stroke-width="0.22">10</text>
<line x1="60.4" y1="419.54" x2="63.4" y2="419.54" stroke="#000" stroke-width="1.1"/>
<text x="57.5" y="422.54" font-size="8.4" text-anchor="end" fill="#222" font-weight="normal" font-style="normal"  stroke="#222" stroke-width="0.22">15</text>
<line x1="60.4" y1="405.62" x2="63.4" y2="405.62" stroke="#000" stroke-width="1.1"/>
<text x="57.5" y="408.62" font-size="8.4" text-anchor="end" fill="#222" font-weight="normal" font-style="normal"  stroke="#222" stroke-width="0.22">20</text>
<line x1="60.4" y1="391.70000000000005" x2="63.4" y2="391.70000000000005" stroke="#000" stroke-width="1.1"/>
<text x="57.5" y="394.70000000000005" font-size="8.4" text-anchor="end" fill="#222" font-weight="normal" font-style="normal"  stroke="#222" stroke-width="0.22">25</text>
<line x1="74.3" y1="461.3" x2="74.3" y2="464.6" stroke="#000" stroke-width="1.1"/>
<line x1="95.8" y1="461.3" x2="95.8" y2="464.6" stroke="#000" stroke-width="1.1"/>
<line x1="117.7" y1="461.3" x2="117.7" y2="464.6" stroke="#000" stroke-width="1.1"/>
<line x1="139.6" y1="461.3" x2="139.6" y2="464.6" stroke="#000" stroke-width="1.1"/>
<line x1="161.1" y1="461.3" x2="161.1" y2="464.6" stroke="#000" stroke-width="1.1"/>
<text transform="translate(29.9,425.1) rotate(-90)" font-size="8.95" text-anchor="middle" fill="#222" stroke="#222" stroke-width="0.22">Thymic cellularity</text>
<text transform="translate(41.6,424.9) rotate(-90)" font-size="9.5" text-anchor="middle" fill="#222" stroke="#222" stroke-width="0.22">(x10<tspan font-size="5.8" dy="-3.4">7</tspan><tspan dy="3.4">)</tspan></text>
<circle cx="68.8" cy="408" r="1.5" fill="#2c4a8a"/>
<circle cx="72.5" cy="406" r="1.5" fill="#2c4a8a"/>
<circle cx="76.5" cy="405.6" r="1.5" fill="#2c4a8a"/>
<circle cx="71.1" cy="409" r="1.5" fill="#2c4a8a"/>
<circle cx="74.7" cy="409.7" r="1.5" fill="#2c4a8a"/>
<circle cx="79.2" cy="409.7" r="1.5" fill="#2c4a8a"/>
<circle cx="70.3" cy="412.4" r="1.5" fill="#2c4a8a"/>
<circle cx="73.3" cy="412" r="1.5" fill="#2c4a8a"/>
<circle cx="76.2" cy="412.7" r="1.5" fill="#2c4a8a"/>
<circle cx="69.1" cy="414.9" r="1.5" fill="#2c4a8a"/>
<circle cx="72.5" cy="415.6" r="1.5" fill="#2c4a8a"/>
<circle cx="75.5" cy="416.4" r="1.5" fill="#2c4a8a"/>
<circle cx="78.4" cy="414.9" r="1.5" fill="#2c4a8a"/>
<circle cx="71.8" cy="417.9" r="1.5" fill="#2c4a8a"/>
<circle cx="74.7" cy="418.6" r="1.5" fill="#2c4a8a"/>
<circle cx="77.7" cy="418.3" r="1.5" fill="#2c4a8a"/>
<circle cx="74" cy="421.5" r="1.5" fill="#2c4a8a"/>
<circle cx="76.2" cy="425.7" r="1.5" fill="#2c4a8a"/>
<circle cx="72.5" cy="428.9" r="1.5" fill="#2c4a8a"/>
<line x1="68.1" y1="414.9" x2="81.4" y2="414.9" stroke="#2c4a8a" stroke-width="1.2"/>
<line x1="74.5" y1="412.8" x2="74.5" y2="417.2" stroke="#2c4a8a" stroke-width="1.0"/>
<circle cx="90.2" cy="455.4" r="1.5" fill="#a3123a"/>
<circle cx="93.2" cy="454.8" r="1.5" fill="#a3123a"/>
<circle cx="96.1" cy="454.1" r="1.5" fill="#a3123a"/>
<circle cx="99.1" cy="455.4" r="1.5" fill="#a3123a"/>
<circle cx="102" cy="455.4" r="1.5" fill="#a3123a"/>
<circle cx="94.7" cy="457" r="1.5" fill="#a3123a"/>
<circle cx="97.6" cy="456.6" r="1.5" fill="#a3123a"/>
<circle cx="95.4" cy="453.4" r="1.5" fill="#a3123a"/>
<circle cx="95.6" cy="458.4" r="1.5" fill="#a3123a"/>
<circle cx="92.2" cy="457.2" r="1.5" fill="#a3123a"/>
<circle cx="99.2" cy="457.4" r="1.5" fill="#a3123a"/>
<line x1="88.8" y1="455.5" x2="102.6" y2="455.5" stroke="#a3123a" stroke-width="1.6"/>
<circle cx="115.1" cy="417.5" r="1.45" fill="#c8197f"/>
<circle cx="117.8" cy="416.8" r="1.45" fill="#c8197f"/>
<circle cx="119.8" cy="417.5" r="1.45" fill="#c8197f"/>
<circle cx="116.4" cy="419.5" r="1.45" fill="#c8197f"/>
<circle cx="118.5" cy="419.5" r="1.45" fill="#c8197f"/>
<line x1="110.4" y1="418.2" x2="125.2" y2="418.2" stroke="#c8197f" stroke-width="1.2"/>
<circle cx="137.3" cy="418.2" r="1.5" fill="#e5962c"/>
<circle cx="143.4" cy="418.2" r="1.5" fill="#e5962c"/>
<circle cx="139.3" cy="420.9" r="1.5" fill="#e5962c"/>
<circle cx="141.3" cy="420.9" r="1.5" fill="#e5962c"/>
<circle cx="137.3" cy="424.9" r="1.5" fill="#e5962c"/>
<line x1="131.9" y1="420.5" x2="146.7" y2="420.5" stroke="#e5962c" stroke-width="1.2"/>
<line x1="136.5" y1="419.2" x2="142.5" y2="419.2" stroke="#e5962c" stroke-width="1.0"/>
<circle cx="161.3" cy="408.1" r="1.5" fill="#6aac46"/>
<circle cx="158.8" cy="420.2" r="1.5" fill="#6aac46"/>
<circle cx="163.5" cy="420.2" r="1.5" fill="#6aac46"/>
<line x1="153.5" y1="415.9" x2="168" y2="415.9" stroke="#6aac46" stroke-width="1.2"/>
<line x1="157.5" y1="412.4" x2="164.9" y2="412.4" stroke="#6aac46" stroke-width="1.0"/>
<line x1="157.5" y1="418.2" x2="164.9" y2="418.2" stroke="#6aac46" stroke-width="1.0"/>
<line x1="161.3" y1="412.4" x2="161.3" y2="418.2" stroke="#6aac46" stroke-width="1.0"/>
<line x1="75.7" y1="400" x2="93.9" y2="400" stroke="#a2234b" stroke-width="1.5"/>
<line x1="99.2" y1="400" x2="119.5" y2="400" stroke="#a2234b" stroke-width="1.5"/>
<line x1="99.2" y1="391.5" x2="138.5" y2="391.5" stroke="#a2234b" stroke-width="1.5"/>
<line x1="99.2" y1="381.5" x2="162" y2="381.5" stroke="#a2234b" stroke-width="1.5"/>
<circle cx="79.1" cy="396" r="1.25" fill="#a2234b"/>
<circle cx="82.89999999999999" cy="396" r="1.25" fill="#a2234b"/>
<circle cx="86.69999999999999" cy="396" r="1.25" fill="#a2234b"/>
<circle cx="90.5" cy="396" r="1.25" fill="#a2234b"/>
<circle cx="103.3" cy="396" r="1.25" fill="#a2234b"/>
<circle cx="107.1" cy="396" r="1.25" fill="#a2234b"/>
<circle cx="110.89999999999999" cy="396" r="1.25" fill="#a2234b"/>
<circle cx="114.69999999999999" cy="396" r="1.25" fill="#a2234b"/>
<circle cx="113.39999999999999" cy="387.3" r="1.25" fill="#a2234b"/>
<circle cx="117.19999999999999" cy="387.3" r="1.25" fill="#a2234b"/>
<circle cx="120.99999999999999" cy="387.3" r="1.25" fill="#a2234b"/>
<circle cx="124.79999999999998" cy="387.3" r="1.25" fill="#a2234b"/>
<circle cx="125.3" cy="377.6" r="1.25" fill="#a2234b"/>
<circle cx="129.1" cy="377.6" r="1.25" fill="#a2234b"/>
<circle cx="132.9" cy="377.6" r="1.25" fill="#a2234b"/>
<circle cx="136.7" cy="377.6" r="1.25" fill="#a2234b"/>
<line x1="216.1" y1="385.6" x2="216.1" y2="462.40000000000003" stroke="#000" stroke-width="1.2"/>
<line x1="215.5" y1="461.8" x2="331.8" y2="461.8" stroke="#000" stroke-width="1.2"/>
<line x1="213.1" y1="461.8" x2="216.1" y2="461.8" stroke="#000" stroke-width="1.1"/>
<text x="210.3" y="464.8" font-size="8.4" text-anchor="end" fill="#222" font-weight="normal" font-style="normal"  stroke="#222" stroke-width="0.22">0</text>
<line x1="213.1" y1="443.40000000000003" x2="216.1" y2="443.40000000000003" stroke="#000" stroke-width="1.1"/>
<text x="210.3" y="446.40000000000003" font-size="8.4" text-anchor="end" fill="#222" font-weight="normal" font-style="normal"  stroke="#222" stroke-width="0.22">1</text>
<line x1="213.1" y1="425.0" x2="216.1" y2="425.0" stroke="#000" stroke-width="1.1"/>
<text x="210.3" y="428.0" font-size="8.4" text-anchor="end" fill="#222" font-weight="normal" font-style="normal"  stroke="#222" stroke-width="0.22">2</text>
<line x1="213.1" y1="406.6" x2="216.1" y2="406.6" stroke="#000" stroke-width="1.1"/>
<text x="210.3" y="409.6" font-size="8.4" text-anchor="end" fill="#222" font-weight="normal" font-style="normal"  stroke="#222" stroke-width="0.22">3</text>
<line x1="213.1" y1="388.20000000000005" x2="216.1" y2="388.20000000000005" stroke="#000" stroke-width="1.1"/>
<text x="210.3" y="391.20000000000005" font-size="8.4" text-anchor="end" fill="#222" font-weight="normal" font-style="normal"  stroke="#222" stroke-width="0.22">4</text>
<line x1="227.6" y1="461.8" x2="227.6" y2="465.1" stroke="#000" stroke-width="1.1"/>
<line x1="251.0" y1="461.8" x2="251.0" y2="465.1" stroke="#000" stroke-width="1.1"/>
<line x1="274.3" y1="461.8" x2="274.3" y2="465.1" stroke="#000" stroke-width="1.1"/>
<line x1="297.5" y1="461.8" x2="297.5" y2="465.1" stroke="#000" stroke-width="1.1"/>
<line x1="320.8" y1="461.8" x2="320.8" y2="465.1" stroke="#000" stroke-width="1.1"/>
<text transform="translate(199.9,424.2) rotate(-90)" font-size="8.8" text-anchor="middle" fill="#222" stroke="#222" stroke-width="0.22">TEC # (x10<tspan font-size="5.3" dy="-3.3">5</tspan><tspan dy="3.3">)</tspan></text>
<circle cx="230.3" cy="393.3" r="1.5" fill="#2c4a8a"/>
<circle cx="225.5" cy="396.7" r="1.5" fill="#2c4a8a"/>
<circle cx="230.3" cy="401.8" r="1.5" fill="#2c4a8a"/>
<circle cx="225.5" cy="401.8" r="1.5" fill="#2c4a8a"/>
<circle cx="222.1" cy="413.2" r="1.5" fill="#2c4a8a"/>
<circle cx="225.5" cy="412.3" r="1.5" fill="#2c4a8a"/>
<circle cx="230.3" cy="412.3" r="1.5" fill="#2c4a8a"/>
<circle cx="233.1" cy="413.8" r="1.5" fill="#2c4a8a"/>
<circle cx="223.6" cy="417" r="1.5" fill="#2c4a8a"/>
<circle cx="227.4" cy="417" r="1.5" fill="#2c4a8a"/>
<circle cx="231.2" cy="418" r="1.5" fill="#2c4a8a"/>
<circle cx="222.7" cy="420.8" r="1.5" fill="#2c4a8a"/>
<circle cx="226.5" cy="420.2" r="1.5" fill="#2c4a8a"/>
<circle cx="230.3" cy="420.8" r="1.5" fill="#2c4a8a"/>
<circle cx="233.5" cy="421.4" r="1.5" fill="#2c4a8a"/>
<circle cx="224.6" cy="424" r="1.5" fill="#2c4a8a"/>
<circle cx="228.4" cy="425.2" r="1.5" fill="#2c4a8a"/>
<circle cx="232.2" cy="424" r="1.5" fill="#2c4a8a"/>
<line x1="220.8" y1="414.2" x2="236" y2="414.2" stroke="#2c4a8a" stroke-width="1.2"/>
<rect x="249.79999999999998" y="439.70000000000005" width="2.8" height="2.8" fill="#a3123a" stroke="none" stroke-width="1"/>
<rect x="249.79999999999998" y="445.0" width="2.8" height="2.8" fill="#a3123a" stroke="none" stroke-width="1"/>
<rect x="246.0" y="456.40000000000003" width="2.8" height="2.8" fill="#a3123a" stroke="none" stroke-width="1"/>
<rect x="249.79999999999998" y="456.8" width="2.8" height="2.8" fill="#a3123a" stroke="none" stroke-width="1"/>
<rect x="253.6" y="456.40000000000003" width="2.8" height="2.8" fill="#a3123a" stroke="none" stroke-width="1"/>
<rect x="246.9" y="459.20000000000005" width="2.8" height="2.8" fill="#a3123a" stroke="none" stroke-width="1"/>
<rect x="252.6" y="459.20000000000005" width="2.8" height="2.8" fill="#a3123a" stroke="none" stroke-width="1"/>
<line x1="243.6" y1="453.1" x2="258.7" y2="453.1" stroke="#a3123a" stroke-width="1.2"/>
<line x1="247.4" y1="449.3" x2="255" y2="449.3" stroke="#a3123a" stroke-width="1.0"/>
<line x1="251.2" y1="449.3" x2="251.2" y2="457" stroke="#a3123a" stroke-width="1.0"/>
<circle cx="270.6" cy="395.6" r="1.4" fill="#c8197f"/>
<circle cx="272.6" cy="395.2" r="1.4" fill="#c8197f"/>
<circle cx="274.6" cy="396.4" r="1.4" fill="#c8197f"/>
<circle cx="276.6" cy="395.7" r="1.4" fill="#c8197f"/>
<circle cx="273.4" cy="397.2" r="1.4" fill="#c8197f"/>
<line x1="266.9" y1="396" x2="281.7" y2="396" stroke="#c8197f" stroke-width="1.2"/>
<circle cx="297.4" cy="421.8" r="1.5" fill="#e5962c"/>
<circle cx="295" cy="427.8" r="1.5" fill="#e5962c"/>
<circle cx="299.2" cy="427.8" r="1.5" fill="#e5962c"/>
<circle cx="297.1" cy="431.3" r="1.5" fill="#e5962c"/>
<line x1="289.4" y1="427.1" x2="304.8" y2="427.1" stroke="#e5962c" stroke-width="1.2"/>
<line x1="293.6" y1="425" x2="301.3" y2="425" stroke="#e5962c" stroke-width="1.0"/>
<line x1="293.6" y1="429.7" x2="301.3" y2="429.7" stroke="#e5962c" stroke-width="1.0"/>
<line x1="297.4" y1="425" x2="297.4" y2="429.7" stroke="#e5962c" stroke-width="1.0"/>
<circle cx="320.7" cy="422.9" r="1.5" fill="#6aac46"/>
<circle cx="322.4" cy="430.6" r="1.5" fill="#6aac46"/>
<circle cx="318.2" cy="434.2" r="1.5" fill="#6aac46"/>
<line x1="312.6" y1="429.7" x2="328" y2="429.7" stroke="#6aac46" stroke-width="1.2"/>
<line x1="316.8" y1="426.4" x2="323.8" y2="426.4" stroke="#6aac46" stroke-width="1.0"/>
<line x1="316.8" y1="432.6" x2="323.8" y2="432.6" stroke="#6aac46" stroke-width="1.0"/>
<line x1="320.3" y1="426.4" x2="320.3" y2="432.6" stroke="#6aac46" stroke-width="1.0"/>
<line x1="255.4" y1="363.8" x2="317.7" y2="363.8" stroke="#a2234b" stroke-width="1.5"/>
<circle cx="284.6" cy="359.7" r="1.25" fill="#a2234b"/>
<circle cx="288.40000000000003" cy="359.7" r="1.25" fill="#a2234b"/>
<line x1="277.8" y1="371.9" x2="316.5" y2="371.9" stroke="#a2234b" stroke-width="1.5"/>
<circle cx="295.5" cy="367.3" r="1.25" fill="#a2234b"/>
<circle cx="299.3" cy="367.3" r="1.25" fill="#a2234b"/>
<line x1="253" y1="380" x2="291.6" y2="380" stroke="#a2234b" stroke-width="1.5"/>
<circle cx="268.59999999999997" cy="375.8" r="1.25" fill="#a2234b"/>
<circle cx="272.4" cy="375.8" r="1.25" fill="#a2234b"/>
<circle cx="276.2" cy="375.8" r="1.25" fill="#a2234b"/>
<line x1="229.3" y1="388.5" x2="247.3" y2="388.5" stroke="#a2234b" stroke-width="1.5"/>
<circle cx="232.60000000000002" cy="384.6" r="1.25" fill="#a2234b"/>
<circle cx="236.40000000000003" cy="384.6" r="1.25" fill="#a2234b"/>
<circle cx="240.20000000000002" cy="384.6" r="1.25" fill="#a2234b"/>
<circle cx="244.00000000000003" cy="384.6" r="1.25" fill="#a2234b"/>
<line x1="253" y1="388.5" x2="272.2" y2="388.5" stroke="#a2234b" stroke-width="1.5"/>
<circle cx="257.3" cy="384.6" r="1.25" fill="#a2234b"/>
<circle cx="261.1" cy="384.6" r="1.25" fill="#a2234b"/>
<circle cx="264.90000000000003" cy="384.6" r="1.25" fill="#a2234b"/>
<circle cx="268.7" cy="384.6" r="1.25" fill="#a2234b"/>
<line x1="280.8" y1="388.5" x2="300.4" y2="388.5" stroke="#a2234b" stroke-width="1.5"/>
<circle cx="288.70000000000005" cy="384.6" r="1.25" fill="#a2234b"/>
<circle cx="292.50000000000006" cy="384.6" r="1.25" fill="#a2234b"/>
<text x="368" y="322" font-size="11" text-anchor="start" fill="#000" font-weight="bold" font-style="normal" >H</text>
<rect x="373.6" y="336.8" width="4.4" height="4.4" fill="#2c4a8a" stroke="none" stroke-width="1"/>
<text x="380.5" y="341.9" font-size="7.9" fill="#111" stroke="#111" stroke-width="0.22">Control</text>
<rect x="373.6" y="346.1" width="4.4" height="4.4" fill="#a3123a" stroke="none" stroke-width="1"/>
<text x="380.5" y="351.2" font-size="7.9" fill="#111" stroke="#111" stroke-width="0.22"><tspan font-style="italic">Mcl1</tspan><tspan font-size="4.4" font-style="italic" dy="-2.8">ΔFoxn1</tspan></text>
<rect x="373.6" y="355.5" width="4.4" height="4.4" fill="#6aac46" stroke="none" stroke-width="1"/>
<text x="380.5" y="360.6" font-size="7.9" fill="#111" stroke="#111" stroke-width="0.22"><tspan font-style="italic">Mcl1</tspan><tspan font-size="4.4" font-style="italic" dy="-2.8">ΔFoxn1</tspan><tspan font-style="italic" dy="2.8">Bax</tspan><tspan font-size="4.4" font-style="italic" dy="-2.8">ΔFoxn1</tspan><tspan font-style="italic" dy="2.8">Bak</tspan><tspan font-size="4.4" font-style="italic" dy="-2.8">−/−</tspan></text>
<rect x="373.6" y="364.8" width="4.4" height="4.4" fill="#c8c8ca" stroke="none" stroke-width="1"/>
<text x="380.5" y="369.9" font-size="7.9" fill="#111" stroke="#111" stroke-width="0.22">FMO</text>
<text transform="translate(374.1,421.6) rotate(-90)" font-size="9.0" text-anchor="middle" fill="#222" stroke="#222" stroke-width="0.22">Percentage of Max</text>
<line x1="381.8" y1="461.6" x2="381.8" y2="382.9" stroke="#000" stroke-width="1.2"/>
<polygon points="380.0,383.2 383.6,383.2 381.8,379.4" fill="#000"/>
<line x1="381.8" y1="461.6" x2="425.8" y2="461.6" stroke="#000" stroke-width="1.2"/>
<polygon points="425.5,459.8 425.5,463.4 429.3,461.6" fill="#000"/>
<text transform="translate(432.6,464.3) scale(1,1.12)" font-size="8.5" text-anchor="start" fill="#222" stroke="#222" stroke-width="0.22">MCL-1</text>
<line x1="388.3" y1="385.6" x2="391.5" y2="385.6" stroke="#000" stroke-width="0.9"/>
<line x1="389.5" y1="389.20000000000005" x2="391.5" y2="389.20000000000005" stroke="#000" stroke-width="0.9"/>
<line x1="389.5" y1="392.80000000000007" x2="391.5" y2="392.80000000000007" stroke="#000" stroke-width="0.9"/>
<line x1="389.5" y1="396.4000000000001" x2="391.5" y2="396.4000000000001" stroke="#000" stroke-width="0.9"/>
<line x1="388.3" y1="400.0000000000001" x2="391.5" y2="400.0000000000001" stroke="#000" stroke-width="0.9"/>
<line x1="389.5" y1="403.60000000000014" x2="391.5" y2="403.60000000000014" stroke="#000" stroke-width="0.9"/>
<line x1="389.5" y1="407.20000000000016" x2="391.5" y2="407.20000000000016" stroke="#000" stroke-width="0.9"/>
<line x1="389.5" y1="410.8000000000002" x2="391.5" y2="410.8000000000002" stroke="#000" stroke-width="0.9"/>
<line x1="388.3" y1="414.4000000000002" x2="391.5" y2="414.4000000000002" stroke="#000" stroke-width="0.9"/>
<line x1="389.5" y1="418.0000000000002" x2="391.5" y2="418.0000000000002" stroke="#000" stroke-width="0.9"/>
<line x1="389.5" y1="421.60000000000025" x2="391.5" y2="421.60000000000025" stroke="#000" stroke-width="0.9"/>
<line x1="389.5" y1="425.2000000000003" x2="391.5" y2="425.2000000000003" stroke="#000" stroke-width="0.9"/>
<line x1="388.3" y1="428.8000000000003" x2="391.5" y2="428.8000000000003" stroke="#000" stroke-width="0.9"/>
<line x1="389.5" y1="432.4000000000003" x2="391.5" y2="432.4000000000003" stroke="#000" stroke-width="0.9"/>
<line x1="389.5" y1="436.00000000000034" x2="391.5" y2="436.00000000000034" stroke="#000" stroke-width="0.9"/>
<line x1="389.5" y1="439.60000000000036" x2="391.5" y2="439.60000000000036" stroke="#000" stroke-width="0.9"/>
<line x1="388.3" y1="443.2000000000004" x2="391.5" y2="443.2000000000004" stroke="#000" stroke-width="0.9"/>
<line x1="389.5" y1="446.8000000000004" x2="391.5" y2="446.8000000000004" stroke="#000" stroke-width="0.9"/>
<line x1="393.5" y1="448.8" x2="393.5" y2="446.3" stroke="#000" stroke-width="0.8"/>
<line x1="398.5422524273717" y1="448.8" x2="398.5422524273717" y2="447.3" stroke="#000" stroke-width="0.8"/>
<line x1="401.49178101655434" y1="448.8" x2="401.49178101655434" y2="447.3" stroke="#000" stroke-width="0.8"/>
<line x1="403.5845048547434" y1="448.8" x2="403.5845048547434" y2="447.3" stroke="#000" stroke-width="0.8"/>
<line x1="405.2077475726283" y1="448.8" x2="405.2077475726283" y2="447.3" stroke="#000" stroke-width="0.8"/>
<line x1="406.53403344392603" y1="448.8" x2="406.53403344392603" y2="447.3" stroke="#000" stroke-width="0.8"/>
<line x1="407.6553921702388" y1="448.8" x2="407.6553921702388" y2="447.3" stroke="#000" stroke-width="0.8"/>
<line x1="408.6267572821151" y1="448.8" x2="408.6267572821151" y2="447.3" stroke="#000" stroke-width="0.8"/>
<line x1="409.4835620331087" y1="448.8" x2="409.4835620331087" y2="447.3" stroke="#000" stroke-width="0.8"/>
<line x1="410.25" y1="448.8" x2="410.25" y2="446.3" stroke="#000" stroke-width="0.8"/>
<line x1="415.2922524273717" y1="448.8" x2="415.2922524273717" y2="447.3" stroke="#000" stroke-width="0.8"/>
<line x1="418.24178101655434" y1="448.8" x2="418.24178101655434" y2="447.3" stroke="#000" stroke-width="0.8"/>
<line x1="420.3345048547434" y1="448.8" x2="420.3345048547434" y2="447.3" stroke="#000" stroke-width="0.8"/>
<line x1="421.9577475726283" y1="448.8" x2="421.9577475726283" y2="447.3" stroke="#000" stroke-width="0.8"/>
<line x1="423.28403344392603" y1="448.8" x2="423.28403344392603" y2="447.3" stroke="#000" stroke-width="0.8"/>
<line x1="424.4053921702388" y1="448.8" x2="424.4053921702388" y2="447.3" stroke="#000" stroke-width="0.8"/>
<line x1="425.3767572821151" y1="448.8" x2="425.3767572821151" y2="447.3" stroke="#000" stroke-width="0.8"/>
<line x1="426.2335620331087" y1="448.8" x2="426.2335620331087" y2="447.3" stroke="#000" stroke-width="0.8"/>
<line x1="427.0" y1="448.8" x2="427.0" y2="446.3" stroke="#000" stroke-width="0.8"/>
<line x1="432.0422524273717" y1="448.8" x2="432.0422524273717" y2="447.3" stroke="#000" stroke-width="0.8"/>
<line x1="434.99178101655434" y1="448.8" x2="434.99178101655434" y2="447.3" stroke="#000" stroke-width="0.8"/>
<line x1="437.0845048547434" y1="448.8" x2="437.0845048547434" y2="447.3" stroke="#000" stroke-width="0.8"/>
<line x1="438.7077475726283" y1="448.8" x2="438.7077475726283" y2="447.3" stroke="#000" stroke-width="0.8"/>
<line x1="440.03403344392603" y1="448.8" x2="440.03403344392603" y2="447.3" stroke="#000" stroke-width="0.8"/>
<line x1="441.1553921702388" y1="448.8" x2="441.1553921702388" y2="447.3" stroke="#000" stroke-width="0.8"/>
<line x1="442.1267572821151" y1="448.8" x2="442.1267572821151" y2="447.3" stroke="#000" stroke-width="0.8"/>
<line x1="442.9835620331087" y1="448.8" x2="442.9835620331087" y2="447.3" stroke="#000" stroke-width="0.8"/>
<line x1="443.75" y1="448.8" x2="443.75" y2="446.3" stroke="#000" stroke-width="0.8"/>
<line x1="448.7922524273717" y1="448.8" x2="448.7922524273717" y2="447.3" stroke="#000" stroke-width="0.8"/>
<line x1="451.74178101655434" y1="448.8" x2="451.74178101655434" y2="447.3" stroke="#000" stroke-width="0.8"/>
<line x1="453.8345048547434" y1="448.8" x2="453.8345048547434" y2="447.3" stroke="#000" stroke-width="0.8"/>
<line x1="455.4577475726283" y1="448.8" x2="455.4577475726283" y2="447.3" stroke="#000" stroke-width="0.8"/>
<line x1="456.78403344392603" y1="448.8" x2="456.78403344392603" y2="447.3" stroke="#000" stroke-width="0.8"/>
<polygon points="392.0,448.0 392.0,447.0 392.0,400.0 393.5,392.0 395.0,387.0 397.0,385.3 398.5,386.5 400.0,392.0 401.5,410.0 402.5,430.0 403.5,446.0 403.5,448.0" fill="#d2d2d8"/>
<polyline points="392.2,446.0 393.5,439.1 396.0,434.0 398.0,430.0 400.3,425.6 402.0,415.0 403.6,402.0 405.5,397.0 407.0,393.6 409.0,389.0 410.9,385.5 412.5,388.0 413.5,386.5 415.4,391.0 417.5,398.0 419.7,408.8 421.5,416.0 423.0,425.6 425.0,433.0 428.1,444.2 432.3,447.9 458.0,448.0" fill="none" stroke="#2d4b86" stroke-width="1.7" stroke-linejoin="round"/>
<polyline points="392.2,415.5 393.5,407.0 395.0,400.0 396.0,397.0 397.4,386.0 398.5,388.0 400.3,393.6 401.5,405.0 402.5,430.0 403.5,444.0 405.0,446.0 420.0,446.5 440.0,447.5" fill="none" stroke="#a3123a" stroke-width="1.7" stroke-linejoin="round"/>
<polyline points="392.2,447.5 392.2,384.3 393.5,385.8 395.0,385.2 396.9,384.8 398.5,386.2 400.3,390.5 401.3,400.0 402.2,415.0 403.2,430.0 404.3,442.5 406.0,446.8 430.0,447.5 458.0,447.8" fill="none" stroke="#6aac46" stroke-width="1.7" stroke-linejoin="round"/>
<rect x="391.5" y="381.8" width="67.0" height="67.0" fill="none" stroke="#000" stroke-width="1.2"/>
</svg>
</body></html>
